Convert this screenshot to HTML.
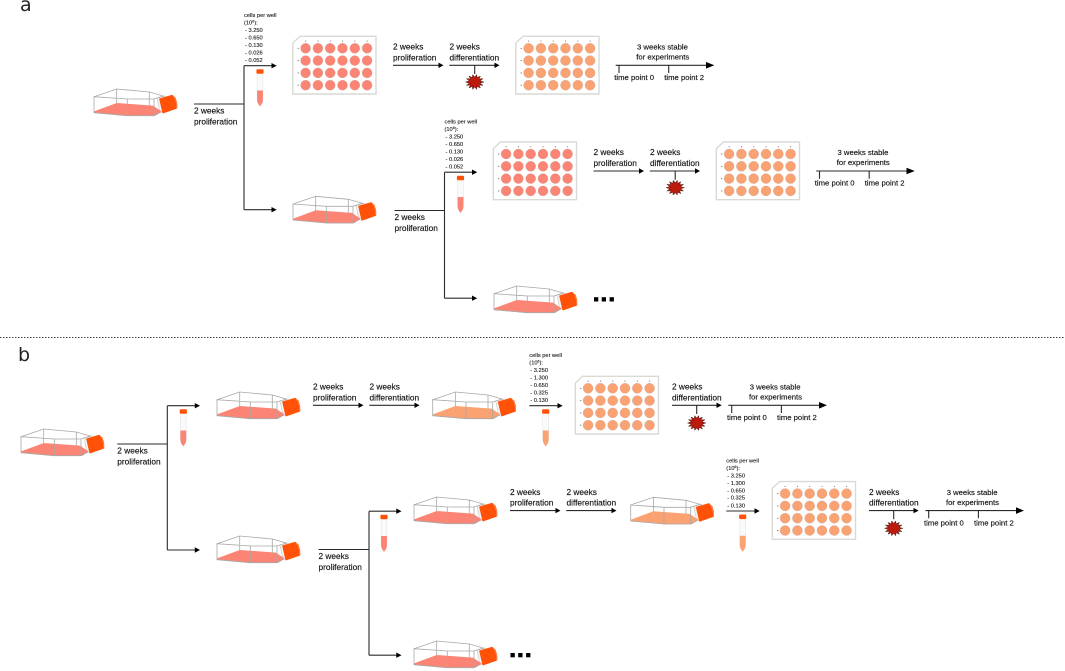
<!DOCTYPE html>
<html lang="en">
<head>
<meta charset="utf-8">
<title>Cell culture protocol diagram</title>
<style>
html,body{margin:0;padding:0;background:#fff;width:1065px;height:671px;overflow:hidden}
svg{display:block;font-family:"Liberation Sans",sans-serif;fill:#111;color:#fc8474}
.t{font-size:8.3px;stroke:#111;stroke-width:.14px}
.m{font-size:7.7px;stroke:#111;stroke-width:.14px}
.s{font-size:5.7px;stroke:#111;stroke-width:.1px}
.l{stroke:#2b2b2b;stroke-width:1.1;fill:none}
.h{fill:#000;stroke:none}
.panel{font-family:"DejaVu Sans",sans-serif;font-size:19px;fill:#222}
.red{color:#fc8474}
.org{color:#fba272}
</style>
</head>
<body>
<svg width="1065" height="671" viewBox="0 0 1065 671">
<defs>
  <symbol id="flask" width="90" height="32" viewBox="0 0 90 32" overflow="visible">
    <path d="M63 9L71 7L72 22L66 23.5Z" fill="#f4f4f4" stroke="#c4c4c4" stroke-width=".6"/>
    <polygon points="0,22.4 22.7,14 59,16.6 67.7,22.5 61,26.9 33.3,27 0,23.9" fill="currentColor"/>
    <path d="M0 7.7L22.7 0L55.3 3L69.3 7L60 10L33.3 10L0 7.7V23.7L33.3 26.7H60L67 23M22.7 0V14.3M55.3 3V17M33.3 10V26.7M60 10V26.7" fill="none" stroke="#a8a8a8" stroke-width=".8"/>
    <polygon points="65.8,10 78,6.5 81,9 82.6,14 82.6,19 69,23.8" fill="#ff5208" stroke="#ff5208" stroke-width="1.2" stroke-linejoin="round"/>
    <path d="M78.7 6Q82.7 11 83 19.3" fill="none" stroke="#ff9a60" stroke-width=".6"/>
  </symbol>
  <symbol id="plate" width="84" height="60" viewBox="0 0 84 60" overflow="visible">
    <path d="M7 .3H83V58H-.2V7Z" fill="#fff" stroke="#d9d9d6" stroke-width="1.4"/>
    <g fill="currentColor" stroke="#c9a89e" stroke-width=".4">
      <circle cx="12.6" cy="12.3" r="5"/><circle cx="24.9" cy="12.3" r="5"/><circle cx="37.2" cy="12.3" r="5"/><circle cx="49.5" cy="12.3" r="5"/><circle cx="61.8" cy="12.3" r="5"/><circle cx="74.1" cy="12.3" r="5"/>
      <circle cx="12.6" cy="24.6" r="5"/><circle cx="24.9" cy="24.6" r="5"/><circle cx="37.2" cy="24.6" r="5"/><circle cx="49.5" cy="24.6" r="5"/><circle cx="61.8" cy="24.6" r="5"/><circle cx="74.1" cy="24.6" r="5"/>
      <circle cx="12.6" cy="36.9" r="5"/><circle cx="24.9" cy="36.9" r="5"/><circle cx="37.2" cy="36.9" r="5"/><circle cx="49.5" cy="36.9" r="5"/><circle cx="61.8" cy="36.9" r="5"/><circle cx="74.1" cy="36.9" r="5"/>
      <circle cx="12.6" cy="49.2" r="5"/><circle cx="24.9" cy="49.2" r="5"/><circle cx="37.2" cy="49.2" r="5"/><circle cx="49.5" cy="49.2" r="5"/><circle cx="61.8" cy="49.2" r="5"/><circle cx="74.1" cy="49.2" r="5"/>
    </g>
    <g fill="#666">
      <rect x="12.2" y="4.6" width=".9" height="1"/><rect x="24.5" y="4.6" width=".9" height="1"/><rect x="36.8" y="4.6" width=".9" height="1"/><rect x="49.1" y="4.6" width=".9" height="1"/><rect x="61.4" y="4.6" width=".9" height="1"/><rect x="73.7" y="4.6" width=".9" height="1"/>
      <rect x="4.6" y="11.9" width="1.2" height=".9"/><rect x="4.6" y="24.2" width="1.2" height=".9"/><rect x="4.6" y="36.5" width="1.2" height=".9"/><rect x="4.6" y="48.8" width="1.2" height=".9"/>
    </g>
  </symbol>
  <symbol id="tube" width="10" height="38" viewBox="-5 0 10 38" overflow="visible">
    <path d="M-2.9 4V31Q-2.9 34 0 37.3Q2.9 34 2.9 31V4Z" fill="#fafafa" stroke="#e2e2e2" stroke-width=".5"/>
    <path d="M-2.9 21.5H2.9V31Q2.9 34 0 37.3Q-2.9 34 -2.9 31Z" fill="currentColor"/>
    <rect x="-3.6" y="0.2" width="7.2" height="4.6" rx="1.2" fill="#ff5208"/>
  </symbol>
  <symbol id="star" width="20" height="18" viewBox="-10 -9 20 18" overflow="visible">
    <polygon points="9.2,0 5.4,1.1 8.3,3.3 4.3,3.1 5.7,5.9 2.4,4.5 2,7.4 0,5 -2,7.4 -2.4,4.5 -5.7,5.9 -4.3,3.1 -8.3,3.3 -5.4,1.1 -9.2,0 -5.4,-1.1 -8.3,-3.3 -4.3,-3.1 -5.7,-5.9 -2.4,-4.5 -2,-7.4 0,-5 2,-7.4 2.4,-4.5 5.7,-5.9 4.3,-3.1 8.3,-3.3 5.4,-1.1" fill="#bb1a0c" stroke="#2a0a06" stroke-width=".4"/>
  </symbol>
</defs>

<text class="panel" x="20" y="11">a</text>
<text class="panel" x="18" y="361">b</text>
<line x1="0" y1="337.5" x2="1065" y2="337.5" stroke="#444" stroke-width="1" stroke-dasharray="1.5 1.5"/>

<!-- PANEL A -->
<use href="#flask" x="94" y="89" class="red"/>
<g>
  <path class="l" d="M194 104H244M244 65.7V209.7M244 65.7H272M244 209.7H272"/>
  <path class="h" d="M271.5 63L276.7 65.7L271.5 68.4ZM271.5 207L276.7 209.7L271.5 212.4Z"/>
  <text class="t" x="194" y="113.5">2 weeks</text>
  <text class="t" x="194" y="124.3">proliferation</text>
  <use href="#tube" x="255" y="69"/>
  <g class="s">
    <text x="244" y="17">cells per well</text>
    <text x="244" y="24.5">(10<tspan font-size="3.6" dy="-2">6</tspan><tspan dy="2">):</tspan></text>
    <text x="245" y="32">- 3.250</text>
    <text x="245" y="39.5">- 0.650</text>
    <text x="245" y="47">- 0.130</text>
    <text x="245" y="54.4">- 0.026</text>
    <text x="245" y="62">- 0.052</text>
  </g>
</g>
<g>
  <use href="#plate" x="293" y="36" class="red"/>
  <text class="t" x="393" y="49.5">2 weeks</text>
  <text class="t" x="393" y="60.3">proliferation</text>
  <path class="l" d="M393 65.3H439M449.3 65.3H495M474.7 65.3V74"/>
  <path class="h" d="M438.5 62.6L443.5 65.3L438.5 68ZM494.5 62.6L499.5 65.3L494.5 68Z"/>
  <text class="t" x="449.5" y="49.5">2 weeks</text>
  <text class="t" x="449.5" y="60.3">differentiation</text>
  <use href="#star" x="464.7" y="73"/>
  <use href="#plate" x="516" y="36" class="org"/>
  <text class="m" x="637" y="49.5">3 weeks stable</text>
  <text class="m" x="636.3" y="59.5">for experiments</text>
  <path class="l" d="M615.7 65.3H708M619 65.3V73M668.7 65.3V73"/>
  <path class="h" d="M706 62L714.3 65.3L706 68.6Z"/>
  <text class="m" x="614.3" y="80">time point 0</text>
  <text class="m" x="664.3" y="80">time point 2</text>
</g>
<use href="#flask" x="293" y="196.3" class="red"/>

<g transform="translate(200.5 106.5)">
  <path class="l" d="M194 104H244M244 65.7V191.7M244 65.7H272M244 191.7H272"/>
  <path class="h" d="M271.5 63L276.7 65.7L271.5 68.4ZM271.5 189L276.7 191.7L271.5 194.4Z"/>
  <text class="t" x="194" y="113.5">2 weeks</text>
  <text class="t" x="194" y="124.3">proliferation</text>
  <use href="#tube" x="255" y="69"/>
  <g class="s">
    <text x="244" y="17">cells per well</text>
    <text x="244" y="24.5">(10<tspan font-size="3.6" dy="-2">6</tspan><tspan dy="2">):</tspan></text>
    <text x="245" y="32">- 3.250</text>
    <text x="245" y="39.5">- 0.650</text>
    <text x="245" y="47">- 0.130</text>
    <text x="245" y="54.4">- 0.026</text>
    <text x="245" y="62">- 0.052</text>
  </g>
</g>
<g transform="translate(200.5 105.7)">
  <use href="#plate" x="293" y="36" class="red"/>
  <text class="t" x="393" y="49.5">2 weeks</text>
  <text class="t" x="393" y="60.3">proliferation</text>
  <path class="l" d="M393 65.3H439M449.3 65.3H495M474.7 65.3V74"/>
  <path class="h" d="M438.5 62.6L443.5 65.3L438.5 68ZM494.5 62.6L499.5 65.3L494.5 68Z"/>
  <text class="t" x="449.5" y="49.5">2 weeks</text>
  <text class="t" x="449.5" y="60.3">differentiation</text>
  <use href="#star" x="464.7" y="73"/>
  <use href="#plate" x="516" y="36" class="org"/>
  <text class="m" x="637" y="49.5">3 weeks stable</text>
  <text class="m" x="636.3" y="59.5">for experiments</text>
  <path class="l" d="M615.7 65.3H708M619 65.3V73M668.7 65.3V73"/>
  <path class="h" d="M706 62L714.3 65.3L706 68.6Z"/>
  <text class="m" x="614.3" y="80">time point 0</text>
  <text class="m" x="664.3" y="80">time point 2</text>
</g>
<use href="#flask" x="494" y="286" class="red"/>
<g class="h">
  <rect x="594" y="297.2" width="4.3" height="4.3"/><rect x="601.7" y="297.2" width="4.3" height="4.3"/><rect x="609.6" y="297.2" width="4.3" height="4.3"/>
</g>

<!-- PANEL B -->
<use href="#flask" x="21" y="429" class="red"/>
<g transform="translate(-76.7 340)">
  <path class="l" d="M194 104H244M244 65.7V210M244 65.7H272M244 210H272"/>
  <path class="h" d="M271.5 63L276.7 65.7L271.5 68.4ZM271.5 207.3L276.7 210L271.5 212.7Z"/>
  <text class="t" x="194" y="113.5">2 weeks</text>
  <text class="t" x="194" y="124.3">proliferation</text>
  <use href="#tube" x="255" y="69"/>
</g>
<use href="#flask" x="217" y="392" class="red"/>
<use href="#flask" x="217" y="536" class="red"/>

<g>
  <text class="t" x="313" y="389.5">2 weeks</text>
  <text class="t" x="313" y="400.3">proliferation</text>
  <path class="l" d="M313 405.3H359M369.3 405.3H415"/>
  <path class="h" d="M358.5 402.6L363.5 405.3L358.5 408ZM414.5 402.6L419.5 405.3L414.5 408Z"/>
  <text class="t" x="369.5" y="389.5">2 weeks</text>
  <text class="t" x="369.5" y="400.3">differentiation</text>
  <use href="#flask" x="432.7" y="392" class="org"/>
  <g class="s">
    <text x="529.3" y="357">cells per well</text>
    <text x="529.3" y="364.5">(10<tspan font-size="3.6" dy="-2">6</tspan><tspan dy="2">):</tspan></text>
    <text x="530.3" y="372">- 3.250</text>
    <text x="530.3" y="379.5">- 1.300</text>
    <text x="530.3" y="387">- 0.650</text>
    <text x="530.3" y="394.4">- 0.325</text>
    <text x="530.3" y="402">- 0.130</text>
  </g>
  <path class="l" d="M529.3 405.7H558"/>
  <path class="h" d="M557.5 403L562.7 405.7L557.5 408.4Z"/>
  <use href="#tube" x="540.7" y="409" class="org"/>
  <use href="#plate" x="575.5" y="376" class="org"/>
  <text class="t" x="672" y="389.5">2 weeks</text>
  <text class="t" x="672" y="400.3">differentiation</text>
  <path class="l" d="M672 405.3H717M696.7 405.3V414"/>
  <path class="h" d="M716.5 402.6L721.7 405.3L716.5 408Z"/>
  <use href="#star" x="686.7" y="414"/>
  <text class="m" x="749.7" y="389.5">3 weeks stable</text>
  <text class="m" x="749" y="399.5">for experiments</text>
  <path class="l" d="M728.4 405.3H821M731.7 405.3V413M781.4 405.3V413"/>
  <path class="h" d="M819 402L827 405.3L819 408.6Z"/>
  <text class="m" x="727" y="420">time point 0</text>
  <text class="m" x="777" y="420">time point 2</text>
</g>

<g transform="translate(241.8 445.5)">
  <path class="l" d="M76.7 104H127.2M127.2 65.7V209.7M127.2 65.7H155M127.2 209.7H155"/>
  <path class="h" d="M154.5 63L159.7 65.7L154.5 68.4ZM154.5 207L159.7 209.7L154.5 212.4Z"/>
  <text class="t" x="76.7" y="113.5">2 weeks</text>
  <text class="t" x="76.7" y="124.3">proliferation</text>
  <use href="#tube" x="137.2" y="69"/>
</g>
<use href="#flask" x="414" y="497" class="red"/>
<use href="#flask" x="414" y="641" class="red"/>
<g class="h">
  <rect x="510.5" y="653" width="4.3" height="4.3"/><rect x="518.2" y="653" width="4.3" height="4.3"/><rect x="526.1" y="653" width="4.3" height="4.3"/>
</g>

<g transform="translate(197 105.3)">
  <text class="t" x="313" y="389.5">2 weeks</text>
  <text class="t" x="313" y="400.3">proliferation</text>
  <path class="l" d="M313 405.3H359M369.3 405.3H415"/>
  <path class="h" d="M358.5 402.6L363.5 405.3L358.5 408ZM414.5 402.6L419.5 405.3L414.5 408Z"/>
  <text class="t" x="369.5" y="389.5">2 weeks</text>
  <text class="t" x="369.5" y="400.3">differentiation</text>
  <use href="#flask" x="433.7" y="392" class="org"/>
  <g class="s">
    <text x="529.3" y="357">cells per well</text>
    <text x="529.3" y="364.5">(10<tspan font-size="3.6" dy="-2">6</tspan><tspan dy="2">):</tspan></text>
    <text x="530.3" y="372">- 3.250</text>
    <text x="530.3" y="379.5">- 1.300</text>
    <text x="530.3" y="387">- 0.650</text>
    <text x="530.3" y="394.4">- 0.325</text>
    <text x="530.3" y="402">- 0.130</text>
  </g>
  <path class="l" d="M529.3 405.7H558"/>
  <path class="h" d="M557.5 403L562.7 405.7L557.5 408.4Z"/>
  <use href="#tube" x="540.7" y="409" class="org"/>
  <use href="#plate" x="575.5" y="376" class="org"/>
  <text class="t" x="672" y="389.5">2 weeks</text>
  <text class="t" x="672" y="400.3">differentiation</text>
  <path class="l" d="M672 405.3H717M696.7 405.3V414"/>
  <path class="h" d="M716.5 402.6L721.7 405.3L716.5 408Z"/>
  <use href="#star" x="686.7" y="414"/>
  <text class="m" x="749.7" y="389.5">3 weeks stable</text>
  <text class="m" x="749" y="399.5">for experiments</text>
  <path class="l" d="M728.4 405.3H821M731.7 405.3V413M781.4 405.3V413"/>
  <path class="h" d="M819 402L827 405.3L819 408.6Z"/>
  <text class="m" x="727" y="420">time point 0</text>
  <text class="m" x="777" y="420">time point 2</text>
</g>
</svg>
</body>
</html>
